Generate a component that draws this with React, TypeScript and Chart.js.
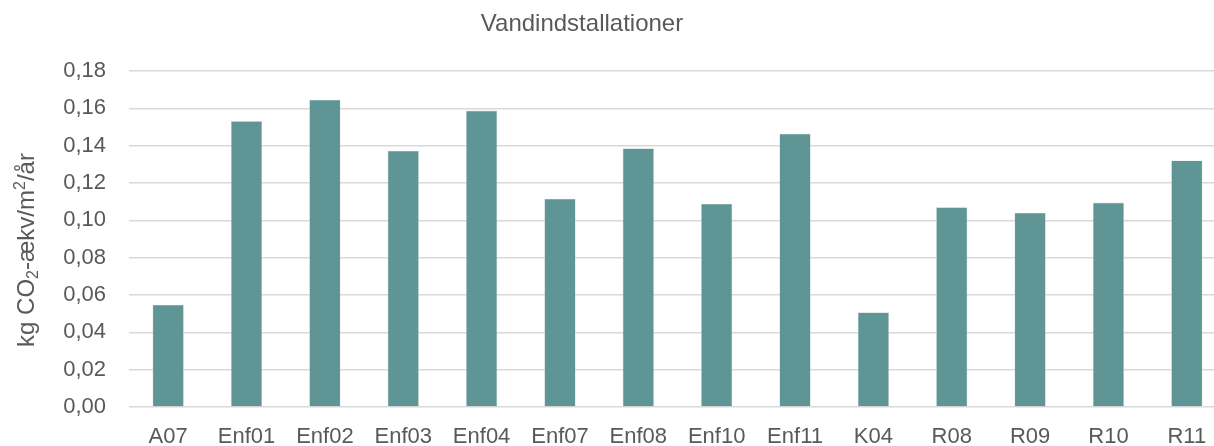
import React, { useEffect, useRef } from "react";
import { Chart, registerables } from "chart.js";

Chart.register(...registerables);

const categories = ["A07", "Enf01", "Enf02", "Enf03", "Enf04", "Enf07", "Enf08", "Enf10", "Enf11", "K04", "R08", "R09", "R10", "R11"];
const values = [0.0548, 0.1532, 0.1646, 0.1373, 0.1588, 0.1116, 0.1386, 0.1089, 0.1464, 0.0507, 0.107, 0.1041, 0.1095, 0.1321];
const yTicks = [0, 0.02, 0.04, 0.06, 0.08, 0.1, 0.12, 0.14, 0.16, 0.18];
const chartTitle = "Vandindstallationer";
// y-axis title split into segments: [text, kind] where kind: n = normal, sub = subscript, sup = superscript
const yTitleParts: [string, string][] = [
  ["kg CO", "n"],
  ["2", "sub"],
  ["-ækv/m", "n"],
  ["2", "sup"],
  ["/år", "n"],
];

const FONT = "'Liberation Sans', Arial, sans-serif";
const TEXT = "#595959";

const textPlugin = {
  id: "customTexts",
  afterDraw(chart: any) {
    const ctx = chart.ctx as CanvasRenderingContext2D;
    ctx.save();
    ctx.fillStyle = TEXT;
    // chart title
    ctx.font = `24px ${FONT}`;
    ctx.textAlign = "center";
    ctx.textBaseline = "middle";
    ctx.fillText(chartTitle, 582, 24);

    // y axis title (rotated, with sub/superscript)
    const size = 24;
    const small = Math.round(size * 0.65);
    const fontFor = (k: string) => `${k === "n" ? size : small}px ${FONT}`;
    let total = 0;
    for (const [t, k] of yTitleParts) {
      ctx.font = fontFor(k);
      total += ctx.measureText(t).width;
    }
    const area = chart.chartArea;
    ctx.translate(25, (area.top + area.bottom) / 2 + 11);
    ctx.rotate(-Math.PI / 2);
    ctx.textAlign = "left";
    ctx.textBaseline = "alphabetic";
    let x = -total / 2;
    const base = size * 0.36;
    for (const [t, k] of yTitleParts) {
      ctx.font = fontFor(k);
      let dy = base;
      if (k === "sub") dy = base + size * 0.2;
      if (k === "sup") dy = base - size * 0.38;
      ctx.fillText(t, x, dy);
      x += ctx.measureText(t).width;
    }
    ctx.restore();
  },
};

export default function App() {
  const ref = useRef<HTMLCanvasElement | null>(null);
  useEffect(() => {
    if (!ref.current) return;
    const chart = new Chart(ref.current, {
      type: "bar",
      data: {
        labels: categories,
        datasets: [
          {
            data: values,
            backgroundColor: "#5F9695",
            borderColor: "#c9dbdb",
            borderWidth: 0.6,
            categoryPercentage: 0.8,
            barPercentage: 0.5,
          },
        ],
      },
      plugins: [textPlugin],
      options: {
        animation: false,
        responsive: true,
        maintainAspectRatio: false,
        layout: { padding: { left: 0, right: 4, top: 71, bottom: 0 } },
        plugins: {
          legend: { display: false },
          tooltip: { enabled: false },
          title: { display: false },
        },
        scales: {
          x: {
            grid: { display: false, drawTicks: false },
            border: { display: false },
            ticks: {
              color: TEXT,
              font: { family: FONT, size: 22 },
              padding: 17,
              maxRotation: 0,
              autoSkip: false,
            },
            afterFit: (scale: any) => {
              scale.height = 39;
            },
          },
          y: {
            min: 0,
            max: 0.18,
            afterBuildTicks: (scale: any) => {
              scale.ticks = yTicks.map((v) => ({ value: v }));
            },
            grid: { color: "#d9d9d9", lineWidth: 1.5, drawTicks: false },
            border: { display: false },
            ticks: {
              color: TEXT,
              font: { family: FONT, size: 22 },
              padding: 23,
              callback: (v: any) => Number(v).toFixed(2).replace(".", ","),
            },
            afterFit: (scale: any) => {
              scale.width = 129;
            },
          },
        },
      },
    });
    return () => chart.destroy();
  }, []);

  return (
    <div style={{ position: "fixed", left: 0, top: 0, width: 1214, height: 446, overflow: "hidden", background: "#fff" }}>
      <div style={{ position: "absolute", left: 0, top: 0, width: 1230, height: 446 }}>
        <canvas ref={ref} />
      </div>
    </div>
  );
}
